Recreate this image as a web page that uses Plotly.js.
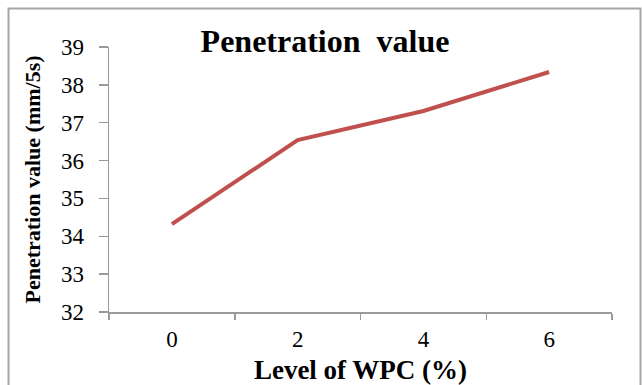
<!DOCTYPE html>
<html>
<head>
<meta charset="utf-8">
<script src="https://cdn.plot.ly/plotly-3.0.1.min.js"></script>
<style>
  html, body { margin: 0; padding: 0; background: #fff; }
  #chart { width: 642px; height: 385px; }
</style>
</head>
<body>
<div id="chart"></div>
<script>
// WPC level (%) and measured penetration (mm/5s)
const wpcLevels = ["0", "2", "4", "6"];
const penetration = [34.32, 36.54, 37.31, 38.34];
const yTicks = [32, 33, 34, 35, 36, 37, 38, 39];

const W = 642, H = 385;
const M = { l: 109, r: 30, t: 47, b: 73 };
const pw = W - M.l - M.r, ph = H - M.t - M.b;
// pixel -> paper helpers for the outer frame
const px = x => (x - M.l) / pw;
const py = y => 1 - (y - M.t) / ph;

const serif = "Liberation Serif, Times New Roman, serif";

const trace = {
  x: wpcLevels,
  y: penetration,
  type: "scatter",
  mode: "lines",
  line: { color: "#C0504D", width: 4 },
  hoverinfo: "skip"
};

const layout = {
  width: W, height: H,
  margin: M,
  paper_bgcolor: "#fff",
  plot_bgcolor: "#fff",
  showlegend: false,
  title: {
    text: "<b>Penetration&nbsp; value</b>",
    font: { family: serif, size: 32, color: "#000" },
    x: px(325), xanchor: "center", xref: "paper",
    y: 1 - 41 / H, yanchor: "middle"
  },
  xaxis: {
    type: "category",
    range: [-0.5, 3.5],
    showline: true, linecolor: "#9a9a9a", linewidth: 1.5,
    ticks: "outside", ticklen: 6, tickcolor: "#9a9a9a", tickwidth: 1.5,
    tickson: "boundaries",
    showgrid: false, zeroline: false,
    tickfont: { family: serif, size: 23, color: "#000" },
    ticklabelstandoff: 6,
    title: {
      text: "<b>Level of WPC (%)</b>",
      font: { family: serif, size: 27, color: "#000" },
      standoff: 9
    }
  },
  yaxis: {
    range: [32, 39],
    tickvals: yTicks,
    showline: true, linecolor: "#9a9a9a", linewidth: 1.5,
    ticks: "outside", ticklen: 9, tickcolor: "#9a9a9a", tickwidth: 1.5,
    showgrid: false, zeroline: false,
    tickfont: { family: serif, size: 23, color: "#000" },
    ticklabelstandoff: 10,
    title: {
      text: "<b>Penetration value (mm/5s)</b>",
      font: { family: serif, size: 22, color: "#000" },
      standoff: 14
    }
  },
  shapes: [{
    type: "rect", xref: "paper", yref: "paper",
    x0: px(8.5), x1: px(640.5), y0: py(395), y1: py(8.5),
    line: { color: "#a6a6a6", width: 2 },
    fillcolor: "rgba(0,0,0,0)",
    layer: "below"
  }]
};

Plotly.newPlot("chart", [trace], layout, { staticPlot: true, displayModeBar: false });
</script>
</body>
</html>
